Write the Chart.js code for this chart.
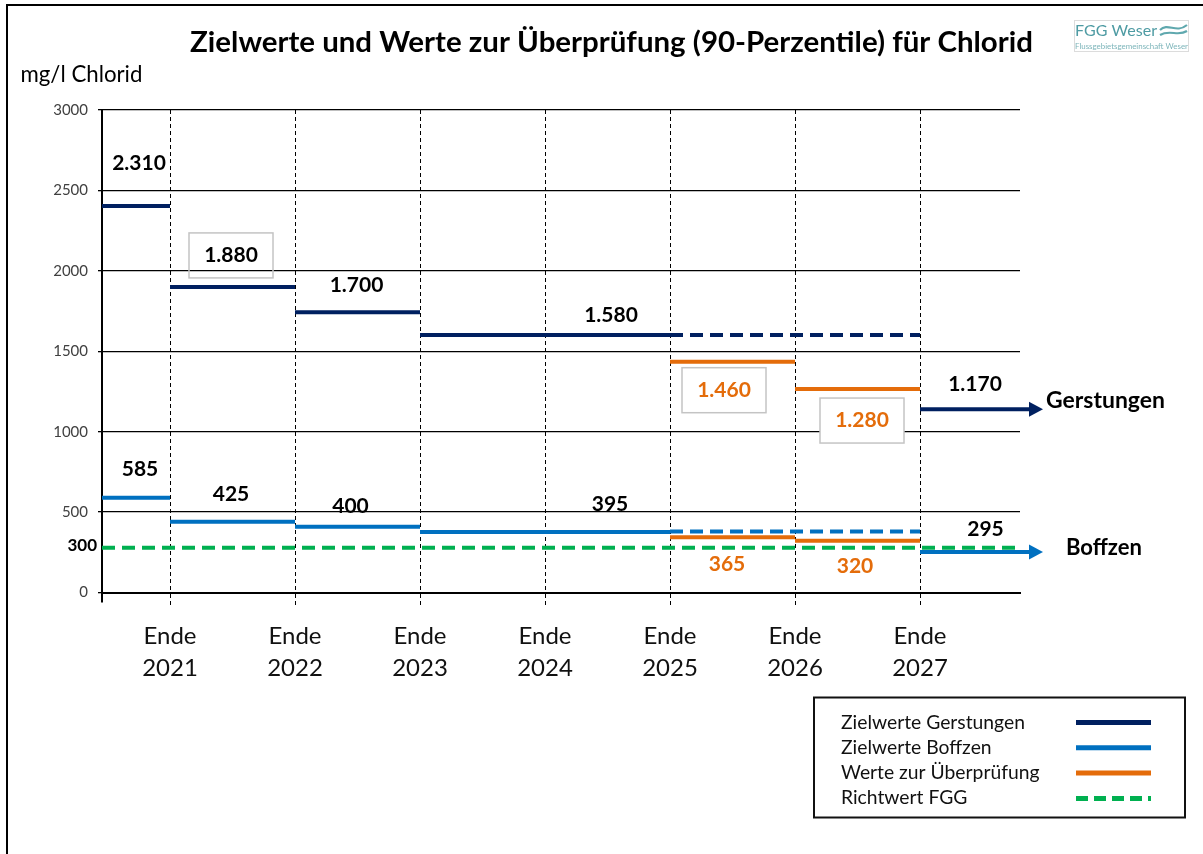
<!DOCTYPE html>
<html><head><meta charset="utf-8">
<script src="https://cdn.jsdelivr.net/npm/chart.js@4.4.1/dist/chart.umd.min.js"></script>
<style>html,body{margin:0;padding:0;background:#fff;} canvas{display:block;}</style>
</head><body>
<canvas id="c" width="1203" height="854"></canvas>
<script>
// ---------- data ----------
const years = [2021, 2022, 2023, 2024, 2025, 2026, 2027];
const xTickLabels = years.map(y => ['Ende', String(y)]);
const yTicks = [0, 500, 1000, 1500, 2000, 2500, 3000];

const zielBisJahr = [2021, 2022, 2023, 2025];          // end of each target period
const gerstungenZiel = [2403, 1900, 1742, 1601];         // line heights as drawn
const gerstungenZielLabels = ['2.310', '1.880', '1.700', '1.580'];
const gerstungenFortgeschrieben = 1601;                  // dashed 2025–2027
const gerstungenAb2027 = 1139;
const gerstungenAb2027Label = '1.170';

const boffzenZiel = [589, 440, 409, 376];
const boffzenZielLabels = ['585', '425', '400', '395'];
const boffzenFortgeschrieben = 379;
const boffzenAb2027 = 252;
const boffzenAb2027Label = '295';

const pruefJahre = [2025, 2026, 2027];
const pruefGerstungen = [1435, 1265];
const pruefGerstungenLabels = ['1.460', '1.280'];
const pruefBoffzen = [343, 322];
const pruefBoffzenLabels = ['365', '320'];

const richtwertFGG = 279;
const richtwertLabel = '300';

const legendNames = ['Zielwerte Gerstungen', 'Zielwerte Boffzen', 'Werte zur Überprüfung', 'Richtwert FGG'];

// ---------- style ----------
const FONT = 'Lato, "Open Sans", sans-serif';
const NAVY = '#002060', BLUE = '#0070C0', ORANGE = '#E46C0A', GREEN = '#00B050';
const X_MIN = 2020.456, X_MAX = 2027.8, ARROW = 2027.92, GREEN_END = 2027.78;

function steps(values, ends, start) {
  const pts = []; let s = start;
  values.forEach((v, i) => { pts.push({x: s, y: v}, {x: ends[i], y: v}, {x: ends[i], y: null}); s = ends[i]; });
  return pts;
}
const base = {showLine: true, fill: false, pointRadius: 0, borderWidth: 4, clip: false, spanGaps: false, tension: 0};

const datasets = [
  {...base, label: legendNames[0], data: steps(gerstungenZiel, zielBisJahr, X_MIN), borderColor: NAVY},
  {...base, label: 'g-dash', data: [{x: 2025, y: gerstungenFortgeschrieben}, {x: 2027, y: gerstungenFortgeschrieben}], borderColor: NAVY, borderDash: [13, 7]},
  {...base, label: 'g-arrow', data: [{x: 2027, y: gerstungenAb2027}, {x: ARROW, y: gerstungenAb2027}], borderColor: NAVY},
  {...base, label: legendNames[1], data: steps(boffzenZiel, zielBisJahr, X_MIN), borderColor: BLUE},
  {...base, label: 'b-dash', data: [{x: 2025, y: boffzenFortgeschrieben}, {x: 2027, y: boffzenFortgeschrieben}], borderColor: BLUE, borderDash: [13, 7]},
  {...base, label: 'b-arrow', data: [{x: 2027, y: boffzenAb2027}, {x: ARROW, y: boffzenAb2027}], borderColor: BLUE},
  {...base, label: legendNames[2], data: steps(pruefGerstungen, pruefJahre.slice(1), pruefJahre[0]), borderColor: ORANGE},
  {...base, label: 'o-b', data: steps(pruefBoffzen, pruefJahre.slice(1), pruefJahre[0]), borderColor: ORANGE},
  {...base, label: legendNames[3], data: [{x: X_MIN, y: richtwertFGG}, {x: GREEN_END, y: richtwertFGG}], borderColor: GREEN, borderDash: [13, 7]}
];

// ---------- decorations ----------
function fitSize(ctx, text, weight, target) {
  ctx.font = `${weight} 100px ${FONT}`;
  return 100 * target / ctx.measureText(text).width;
}
const deco = {
  id: 'deco',
  beforeDraw(chart) {
    const c = chart.ctx;
    c.save(); c.fillStyle = '#fff'; c.fillRect(0, 0, chart.width, chart.height); c.restore();
  },
  afterDatasetsDraw(chart) {
    const c = chart.ctx;
    chart.data.datasets.forEach((ds, i) => {
      if (!/arrow$/.test(ds.label)) return;
      const pt = chart.getDatasetMeta(i).data[1];
      c.save(); c.fillStyle = ds.borderColor;
      c.beginPath(); c.moveTo(pt.x + 8, pt.y); c.lineTo(pt.x - 6, pt.y - 7.5); c.lineTo(pt.x - 6, pt.y + 7.5); c.closePath(); c.fill();
      c.restore();
    });
  },
  afterDraw(chart) {
    const c = chart.ctx, xs = chart.scales.x, ys = chart.scales.y, ca = chart.chartArea;
    const px = v => xs.getPixelForValue(v), py = v => ys.getPixelForValue(v);
    c.save();
    // frame (left and top edges only)
    c.strokeStyle = '#000'; c.lineWidth = 2;
    c.beginPath(); c.moveTo(7, 860); c.lineTo(7, 5); c.lineTo(1210, 5); c.stroke();
    // small tick below axis origin
    c.lineWidth = 2; c.beginPath(); c.moveTo(ca.left, ca.bottom); c.lineTo(ca.left, ca.bottom + 10); c.stroke();
    // title
    c.fillStyle = '#000'; c.textAlign = 'center'; c.textBaseline = 'alphabetic';
    const title = 'Zielwerte und Werte zur Überprüfung (90-Perzentile) für Chlorid';
    c.font = `bold ${fitSize(c, title, 'bold', 843)}px ${FONT}`;
    c.fillText(title, 611.5, 52);
    // unit
    c.textAlign = 'left';
    c.font = `normal ${fitSize(c, 'mg/l Chlorid', 'normal', 122)}px ${FONT}`;
    c.fillText('mg/l Chlorid', 20.5, 81.5);
    // logo
    c.strokeStyle = '#dcdcdc'; c.lineWidth = 1; c.strokeRect(1074.5, 20.5, 114, 31);
    c.fillStyle = '#4E9BA3';
    c.font = `normal ${fitSize(c, 'FGG Weser', 'normal', 82)}px ${FONT}`;
    c.fillText('FGG Weser', 1075, 36);
    c.fillStyle = '#7DB5BA';
    c.font = `normal ${fitSize(c, 'Flussgebietsgemeinschaft Weser', 'normal', 113)}px ${FONT}`;
    c.fillText('Flussgebietsgemeinschaft Weser', 1075, 49);
    c.strokeStyle = '#5FA8AE'; c.lineWidth = 2.2;
    c.beginPath(); c.moveTo(1160, 30); c.bezierCurveTo(1168, 22, 1176, 34, 1187, 25); c.stroke();
    c.beginPath(); c.moveTo(1160, 35); c.bezierCurveTo(1170, 29, 1178, 37, 1187, 31); c.stroke();

    // value labels
    const lbl = (text, xv, yv, dx, dy, color, box) => {
      const x = px(xv) + dx, y = py(yv) + dy;
      if (box) {
        c.save();
        if (box === 'fill') { c.fillStyle = '#fff'; c.fillRect(x - 42, y - 29, 84, 45); }
        c.strokeStyle = '#c4c4c4'; c.lineWidth = 1.5; c.strokeRect(x - 42, y - 29, 84, 45);
        c.restore();
      }
      c.fillStyle = color; c.textAlign = 'center';
      c.font = `bold 21px ${FONT}`;
      c.fillText(text, x, y);
    };
    const starts = [X_MIN, ...zielBisJahr.slice(0, -1)];
    const gdx = [3, -1.5, -1, 66], gdy = [-36, -25, -20, -13];
    const bdx = [4, -1.5, -7, 65], bdy = [-22, -21, -14, -21];
    gerstungenZiel.forEach((v, i) => lbl(gerstungenZielLabels[i], (starts[i] + zielBisJahr[i]) / 2, v, gdx[i], gdy[i], '#000', i === 1 ? 'line' : null));
    boffzenZiel.forEach((v, i) => lbl(boffzenZielLabels[i], (starts[i] + zielBisJahr[i]) / 2, v, bdx[i], bdy[i], '#000', null));
    const pdxG = [-8.5, 4.5], pdyG = [35, 38], pdxB = [-5.5, -2.5], pdyB = [34, 32];
    pruefGerstungen.forEach((v, i) => lbl(pruefGerstungenLabels[i], (pruefJahre[i] + pruefJahre[i + 1]) / 2, v, pdxG[i], pdyG[i], ORANGE, 'fill'));
    pruefBoffzen.forEach((v, i) => lbl(pruefBoffzenLabels[i], (pruefJahre[i] + pruefJahre[i + 1]) / 2, v, pdxB[i], pdyB[i], ORANGE, null));
    lbl(gerstungenAb2027Label, (2027 + ARROW) / 2, gerstungenAb2027, -2.5, -18, '#000', null);
    lbl(boffzenAb2027Label, (2027 + ARROW) / 2, boffzenAb2027, 8, -16, '#000', null);
    // site names
    c.textAlign = 'left'; c.fillStyle = '#000';
    c.font = `bold ${fitSize(c, 'Gerstungen', 'bold', 119)}px ${FONT}`;
    c.fillText('Gerstungen', px(ARROW) + 11, py(gerstungenAb2027) - 1);
    c.font = `bold ${fitSize(c, 'Boffzen', 'bold', 76)}px ${FONT}`;
    c.fillText('Boffzen', px(ARROW) + 31, py(boffzenAb2027) + 3);
    // 300 label on axis
    c.textAlign = 'right'; c.textBaseline = 'middle';
    c.font = `bold 17px ${FONT}`;
    c.fillText(richtwertLabel, 97, py(richtwertFGG) - 2);

    // legend
    c.textBaseline = 'alphabetic';
    c.strokeStyle = '#111'; c.lineWidth = 2;
    c.strokeRect(814, 697.5, 371, 120);
    c.font = `normal ${fitSize(c, legendNames[0], 'normal', 184)}px ${FONT}`;
    c.textAlign = 'left'; c.fillStyle = '#111';
    const legColors = [NAVY, BLUE, ORANGE, GREEN];
    legendNames.forEach((n, i) => {
      const yb = 728.5 + i * 25.3;
      c.fillText(n, 841, yb);
      c.save();
      c.strokeStyle = legColors[i]; c.lineWidth = 5;
      if (i === 3) c.setLineDash([12, 6]);
      c.beginPath(); c.moveTo(1076, yb - 6); c.lineTo(1151, yb - 6); c.stroke();
      c.restore();
    });
    c.restore();
  }
};

new Chart(document.getElementById('c'), {
  type: 'scatter',
  data: {datasets},
  options: {
    responsive: false, animation: false,
    layout: {padding: {left: 0, top: 110, right: 183, bottom: 161.5}},
    plugins: {legend: {display: false}, tooltip: {enabled: false}, title: {display: false}},
    scales: {
      x: {
        type: 'linear', min: X_MIN, max: X_MAX,
        afterBuildTicks: s => { s.ticks = years.map(v => ({value: v})); },
        afterFit: s => { s.height = 100; },
        grid: {color: '#000', lineWidth: 1, tickLength: 14, tickColor: '#000', tickBorderDash: [4, 3]},
        border: {display: true, color: '#000', width: 2, dash: [4, 3]},
        ticks: {autoSkip: false, maxRotation: 0, padding: 13, color: '#111',
          font: {family: FONT, size: 24, lineHeight: 1.36},
          callback: v => xTickLabels[years.indexOf(v)] || ''}
      },
      y: {
        min: 0, max: 3000,
        afterBuildTicks: s => { s.ticks = yTicks.map(v => ({value: v})); },
        afterFit: s => { s.width = 102; },
        grid: {color: '#000', lineWidth: 1.3, tickLength: 4},
        border: {display: true, color: '#000', width: 2},
        ticks: {padding: 10, color: '#404040', font: {family: FONT, size: 15}, callback: v => String(v)}
      }
    }
  },
  plugins: [deco]
});
</script>
</body></html>
